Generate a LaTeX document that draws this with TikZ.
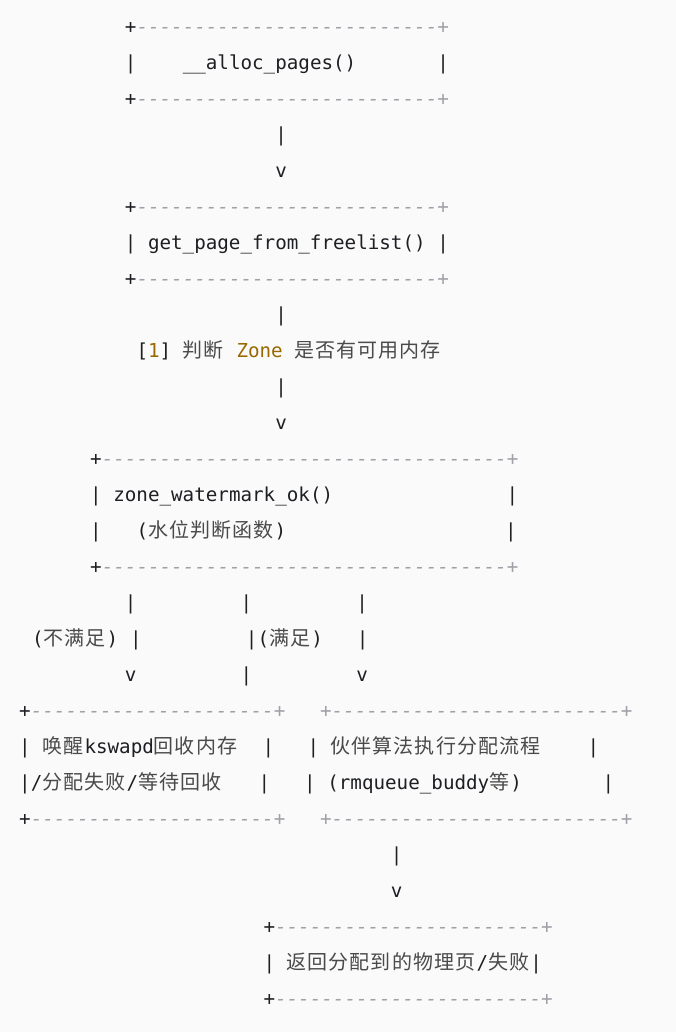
\documentclass[tikz,border=0pt]{standalone}
\usepackage{fontspec}
\usepackage{xcolor}
\newfontfamily\monofam{DejaVu Sans Mono}[Ligatures=TeXOff]
\newfontfamily\cjkfam{Noto Sans CJK SC}[LetterSpace=5.5]
\newcommand\Mfont{\monofam\fontsize{19.22pt}{20pt}\selectfont}
\newcommand\Cfont{\cjkfam\fontsize{20pt}{22pt}\selectfont}
\ExplSyntaxOn
\cs_new:Npn \rdash #1 {\prg_replicate:nn{#1}{-}}
\ExplSyntaxOff
\definecolor{bg}{HTML}{FAFAFA}
\definecolor{fg}{HTML}{1E1F23}
\definecolor{cm}{HTML}{A0A1A7}
\definecolor{gold}{HTML}{986801}
\definecolor{cjk}{HTML}{4A4A4A}
\tikzset{
  tx/.style={anchor=base west, inner sep=0pt, outer sep=0pt, text=fg, font=\Mfont},
  gr/.style={tx, font=\Mfont\itshape, text=cm},
  ck/.style={tx, font=\Cfont, text=cjk},
  gd/.style={tx, text=gold},
}
\begin{document}
\begin{tikzpicture}[x=1pt,y=-1pt]
\fill[bg] (0,0) rectangle (676,1032);
\useasboundingbox (0,0) rectangle (676,1032);
% box 1: __alloc_pages()
\node[tx] (b1tl) at (124.9,33.2) {+};
\node[gr] (b1tr) at (136.5,33.2) {\rdash{26}+};
\node[tx] (b1l) at (124.9,69.2) {|};
\node[tx] (b1t) at (182.75,69.2) {\_\_alloc\_pages()};
\node[tx] (b1r) at (437.3,69.2) {|};
\node[tx] (b1bl) at (124.9,105.2) {+};
\node[gr] (b1br) at (136.5,105.2) {\rdash{26}+};
% arrow 1
\node[tx] (a1s) at (275.3,141.2) {|};
\node[tx] (a1h) at (275.3,177.2) {v};
% box 2: get_page_from_freelist()
\node[tx] (b2tl) at (124.9,213.2) {+};
\node[gr] (b2tr) at (136.5,213.2) {\rdash{26}+};
\node[tx] (b2l) at (124.9,249.2) {|};
\node[tx] (b2t) at (148.0,249.2) {get\_page\_from\_freelist()};
\node[tx] (b2r) at (437.3,249.2) {|};
\node[tx] (b2bl) at (124.9,285.2) {+};
\node[gr] (b2br) at (136.5,285.2) {\rdash{26}+};
% arrow 2 with label
\node[tx] (a2s) at (275.3,321.2) {|};
\node[tx] (lb1) at (136.5,357.2) {[};
\node[gd] (lb2) at (148.0,357.2) {1};
\node[tx] (lb3) at (159.6,357.2) {]};
\node[ck] (lb4) at (182.75,357.2) {判断};
\node[gd] (lb5) at (236.5,357.2) {Zone};
\node[ck] (lb6) at (294.4,357.2) {是否有可用内存};
\node[tx] (a2t) at (275.3,393.2) {|};
\node[tx] (a2h) at (275.3,429.2) {v};
% box 3: zone_watermark_ok()
\node[tx] (b3tl) at (90.2,465.2) {+};
\node[gr] (b3tr) at (101.8,465.2) {\rdash{35}+};
\node[tx] (b3l1) at (90.2,501.2) {|};
\node[tx] (b3t1) at (113.3,501.2) {zone\_watermark\_ok()};
\node[tx] (b3r1) at (506.7,501.2) {|};
\node[tx] (b3l2) at (90.2,537.2) {|};
\node[tx] (b3p1) at (136.5,537.2) {(};
\node[ck] (b3t2) at (148.0,537.2) {水位判断函数};
\node[tx] (b3p2) at (274.6,537.2) {)};
\node[tx] (b3r2) at (505.0,537.2) {|};
\node[tx] (b3bl) at (90.2,573.2) {+};
\node[gr] (b3br) at (101.8,573.2) {\rdash{35}+};
% three branches
\node[tx] (c1a) at (124.9,609.2) {|};
\node[tx] (c2a) at (240.6,609.2) {|};
\node[tx] (c3a) at (356.3,609.2) {|};
\node[tx] (n1) at (32.0,645.2) {(};
\node[ck] (n2) at (43.6,645.2) {不满足};
\node[tx] (n3) at (106.6,645.2) {)};
\node[tx] (c1b) at (130.0,645.2) {|};
\node[tx] (c2b) at (245.9,645.2) {|};
\node[tx] (y1) at (257.5,645.2) {(};
\node[ck] (y2) at (269.1,645.2) {满足};
\node[tx] (y3) at (311.3,645.2) {)};
\node[tx] (c3b) at (356.9,645.2) {|};
\node[tx] (c1c) at (124.9,681.2) {v};
\node[tx] (c2c) at (240.6,681.2) {|};
\node[tx] (c3c) at (356.3,681.2) {v};
% boxes 4 and 5
\node[tx] (b4tl) at (19.2,717.2) {+};
\node[gr] (b4tr) at (30.8,717.2) {\rdash{21}+~~~+\rdash{25}+};
\node[tx] (b4l1) at (19.2,753.2) {|};
\node[ck] (b4a) at (42.3,753.2) {唤醒};
\node[tx] (b4b) at (84.5,753.2) {kswapd};
\node[ck] (b4c) at (153.9,753.2) {回收内存};
\node[tx] (b4r1) at (262.5,753.2) {|};
\node[tx] (b5l1) at (307.5,753.2) {|};
\node[ck] (b5a) at (330.6,753.2) {伙伴算法执行分配流程};
\node[tx] (b5r1) at (587.5,753.2) {|};
\node[tx] (b4l2) at (19.2,789.2) {|};
\node[tx] (b4d) at (30.8,789.2) {/};
\node[ck] (b4e) at (42.3,789.2) {分配失败};
\node[tx] (b4f) at (126.7,789.2) {/};
\node[ck] (b4g) at (138.3,789.2) {等待回收};
\node[tx] (b4r2) at (258.5,789.2) {|};
\node[tx] (b5l2) at (304.2,789.2) {|};
\node[tx] (b5b) at (327.3,789.2) {(rmqueue\_buddy};
\node[ck] (b5c) at (489.3,789.2) {等};
\node[tx] (b5d) at (510.4,789.2) {)};
\node[tx] (b5r2) at (602.5,789.2) {|};
\node[tx] (b4bl) at (19.2,825.2) {+};
\node[gr] (b4br) at (30.8,825.2) {\rdash{21}+~~~+\rdash{25}+};
% arrow 3
\node[tx] (a3s) at (390.9,861.2) {|};
\node[tx] (a3h) at (390.9,897.2) {v};
% box 6
\node[tx] (b6tl) at (263.5,933.2) {+};
\node[gr] (b6tr) at (275.1,933.2) {\rdash{23}+};
\node[tx] (b6l) at (263.5,969.2) {|};
\node[ck] (b6a) at (286.6,969.2) {返回分配到的物理页};
\node[tx] (b6b) at (476.5,969.2) {/};
\node[ck] (b6c) at (488.1,969.2) {失败};
\node[tx] (b6r) at (530.3,969.2) {|};
\node[tx] (b6bl) at (263.5,1005.2) {+};
\node[gr] (b6br) at (275.1,1005.2) {\rdash{23}+};
\end{tikzpicture}
\end{document}
